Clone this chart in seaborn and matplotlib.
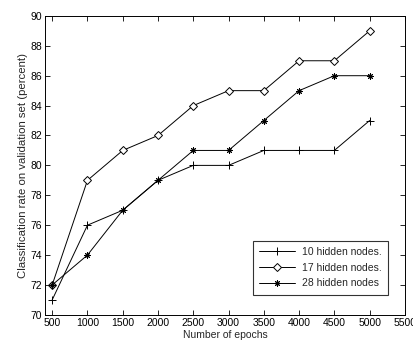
import matplotlib
matplotlib.use("Agg")
import matplotlib.pyplot as plt
import seaborn as sns
import pandas as pd

epochs = [500, 1000, 1500, 2000, 2500, 3000, 3500, 4000, 4500, 5000]
nodes10 = [71, 76, 77, 79, 80, 80, 81, 81, 81, 83]
nodes17 = [72, 79, 81, 82, 84, 85, 85, 87, 87, 89]
nodes28 = [72, 74, 77, 79, 81, 81, 83, 85, 86, 86]
labels = ["10 hidden nodes.", "17 hidden nodes.", "28 hidden nodes"]
xticks = [500, 1000, 1500, 2000, 2500, 3000, 3500, 4000, 4500, 5000, 5500]
yticks = [70, 72, 74, 76, 78, 80, 82, 84, 86, 88, 90]

sns.set_style("white")
plt.rcParams['font.family'] = ['Liberation Sans', 'DejaVu Sans']

df = pd.DataFrame({
    "epochs": epochs * 3,
    "rate": nodes10 + nodes17 + nodes28,
    "series": [labels[0]] * len(epochs) + [labels[1]] * len(epochs) + [labels[2]] * len(epochs),
})

fig = plt.figure(figsize=(4.14, 3.46), dpi=100)
ax = fig.add_axes([0.109, 0.09, 0.869, 0.864])

markers = {labels[0]: "+", labels[1]: "D", labels[2]: (8, 2, 0)}
sizes = {labels[0]: 5.5, labels[1]: 4.2, labels[2]: 4.5}
for lab in labels:
    sub = df[df.series == lab]
    sns.lineplot(data=sub, x="epochs", y="rate", ax=ax, color="black", lw=0.7,
                 marker=markers[lab], markersize=sizes[lab], markerfacecolor="white",
                 markeredgecolor="black", markeredgewidth=0.7, label=lab)

ax.set_xlim(400, 5500)
ax.set_ylim(70, 90)
ax.set_xticks(xticks)
ax.set_yticks(yticks)
ax.tick_params(direction="in", length=3.5, width=0.6, labelsize=7.5, top=True, right=True,
               bottom=True, left=True, pad=2, colors="black")
for s in ax.spines.values():
    s.set_visible(True)
    s.set_color("black")
    s.set_linewidth(0.7)
ax.set_xlabel("Number of epochs", fontsize=7.5, labelpad=2)
ax.set_ylabel("Classification rate on validation set (percent)", fontsize=8.2, labelpad=2)

leg = ax.legend(loc="lower right", bbox_to_anchor=(0.967, 0.050), fontsize=7.5, frameon=True,
                fancybox=False, edgecolor="black", handlelength=3.4, borderpad=0.6,
                labelspacing=0.55, handletextpad=0.7)
leg.get_frame().set_linewidth(0.8)

fig.savefig("out.png", dpi=100)
